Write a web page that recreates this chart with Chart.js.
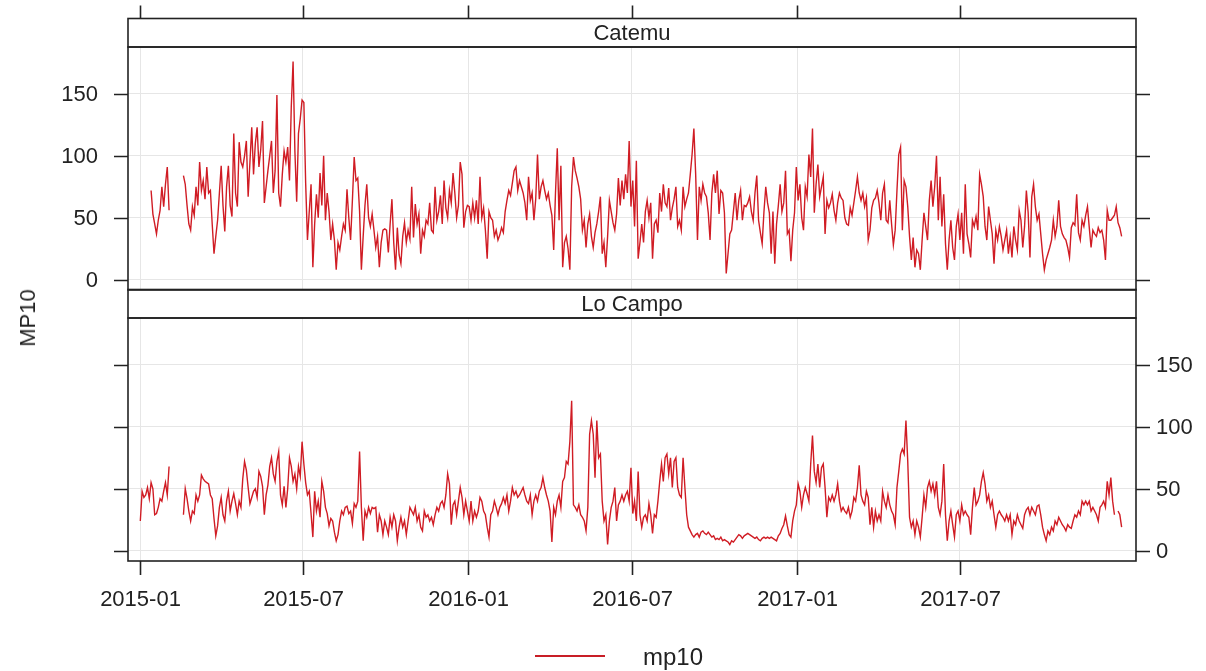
<!DOCTYPE html>
<html>
<head>
<meta charset="utf-8">
<script src="https://cdn.jsdelivr.net/npm/chart.js@4.4.0/dist/chart.umd.min.js"></script>
<style>
    body { margin: 0; background: #fff; width: 1206px; height: 671px; position: relative; overflow: hidden;
           font-family: "Liberation Sans", Arial, sans-serif; color: #222; }
    canvas { position: absolute; left: 0; }
    #topPanel { top: 0; }
    #bottomPanel { top: 285px; }
    #yTitle { position: absolute; left: 28px; top: 318px; transform: translate(-50%, -50%) rotate(-90deg);
              font-size: 22px; white-space: nowrap; }
    #legendLine { position: absolute; left: 535px; top: 655px; width: 70px; height: 1.5px; background: #c81e26; }
    #legendText { position: absolute; left: 643px; top: 645px; font-size: 24px; line-height: 24px; }
</style>
</head>
<body>
<canvas id="topPanel" width="1206" height="300"></canvas>
<canvas id="bottomPanel" width="1206" height="386"></canvas>
<div id="yTitle">MP10</div>
<div id="legendLine"></div>
<div id="legendText">mp10</div>

<script>
// one value every 2 days, starting 2015-01-01 (x = days since then)
const stepDays = 2;
const panelNames = ['Catemu', 'Lo Campo'];
const tickDays = [0, 181, 365, 547, 731, 912];
const tickLabels = ['2015-01', '2015-07', '2016-01', '2016-07', '2017-01', '2017-07'];
const yTicks = [0, 50, 100, 150];

const catemu = [
    null,null,null,null,null,null,72,53,45,37,48,56,75,59,77,          // day 0
    91,56,null,null,null,null,null,null,null,84,77,60,45,40,59,        // 30
    52,75,60,95,72,80,65,91,70,72,45,21,35,48,70,
    92,60,39,75,92,60,51,118,70,59,111,95,91,100,112,                  // 90
    67,95,123,85,110,123,91,105,128,62,75,88,100,112,70,
    88,149,70,59,85,104,95,107,80,140,176,104,63,118,130,
    145,143,78,32,55,77,10,45,69,50,86,60,100,48,70,                   // 180
    55,32,45,32,8,30,24,35,45,40,73,50,32,64,99,
    80,82,55,8,35,60,77,50,43,53,40,26,35,10,30,
    40,41,40,22,45,65,30,8,42,20,13,35,46,30,40,                       // 270
    33,75,34,61,45,53,21,40,35,48,45,62,40,38,75,
    48,55,68,45,80,58,50,72,62,86,70,50,60,95,85,
    42,55,60,59,48,62,50,64,45,83,50,58,40,17,55,                      // 360
    50,48,35,40,32,36,42,38,55,64,72,68,78,88,91,
    72,80,75,70,62,48,83,64,70,48,65,101,65,75,80,
    72,65,70,60,52,24,70,106,48,92,10,30,35,25,8,                      // 450
    75,99,88,82,75,65,40,48,26,45,53,35,26,38,45,
    55,67,21,30,10,35,64,55,46,40,53,82,60,80,65,
    85,70,112,59,80,43,96,17,30,45,30,55,64,50,62,                     // 540
    17,45,48,38,70,55,77,62,59,74,48,58,65,75,43,
    48,40,75,59,65,70,85,101,122,85,32,75,64,77,70,
    67,54,32,70,85,70,88,53,72,70,54,5,21,37,40,                       // 630
    55,70,48,64,72,48,60,59,62,67,55,48,70,84,48,
    38,29,55,75,62,54,21,55,13,45,60,77,55,62,88,
    37,40,15,40,54,91,64,77,50,40,75,67,101,83,122,                    // 720
    54,77,93,67,75,83,37,64,58,62,69,56,48,62,70,
    66,64,50,45,44,58,52,62,72,83,70,64,70,59,66,
    32,40,58,64,66,72,62,48,70,77,48,46,64,45,28,                      // 810
    40,72,101,107,40,80,75,59,35,16,34,10,24,21,8,
    32,54,43,32,64,80,59,75,100,48,83,43,69,29,8,
    32,48,26,16,43,53,32,54,21,77,37,29,18,48,43,                      // 900
    51,40,85,77,67,43,32,59,48,37,13,40,32,43,35,
    24,32,40,21,34,18,43,32,24,56,48,26,43,72,54,
    18,67,77,59,48,53,37,21,8,16,21,26,32,48,35,                       // 990
    43,64,43,37,34,32,26,18,42,46,44,69,38,32,48,
    43,52,59,42,26,40,37,35,42,38,40,32,16,56,48,
    48,50,52,59,46,42,35                                              // 1080
];

const loCampo = [
    24,48,43,45,51,42,55,50,29,30,35,42,40,48,55,                      // day 0
    45,68,null,null,null,null,null,null,null,29,50,42,32,24,32,
    30,45,40,45,61,58,56,55,54,45,42,26,12,20,35,
    43,29,24,40,48,32,40,46,38,29,40,35,58,72,65,                      // 90
    51,38,43,48,50,43,64,60,52,29,45,53,68,75,62,
    56,72,80,45,37,52,35,50,75,68,56,62,50,68,60,
    88,70,55,45,48,30,11,48,32,40,27,56,48,35,30,                      // 180
    20,26,24,15,8,13,24,32,29,35,36,30,32,22,38,
    35,40,80,35,8,32,27,35,30,35,34,35,15,29,24,
    13,24,19,13,27,19,29,24,8,19,27,19,24,13,24,                       // 270
    35,32,29,35,24,29,19,16,32,27,29,24,27,21,29,
    35,32,38,40,35,45,62,54,21,37,40,29,40,51,43,
    29,40,32,24,40,24,32,27,32,43,40,32,29,19,11,                      // 360
    29,32,40,35,29,35,38,43,38,45,32,40,51,45,48,
    43,45,48,51,45,40,38,45,29,40,45,40,48,51,59,
    51,45,40,32,7,35,29,40,45,35,56,59,72,70,88,                       // 450
    121,37,35,32,37,29,27,24,16,35,94,105,94,59,105,
    75,78,40,24,29,5,24,35,40,51,24,37,40,45,40,
    45,48,40,67,30,40,24,64,29,19,27,29,24,38,29,                      // 540
    14,29,27,40,56,70,56,75,78,62,75,51,72,75,51,
    45,43,75,51,29,19,16,13,11,13,14,11,15,16,14,
    13,15,13,11,12,9,10,9,11,8,9,8,7,5,8,                              // 630
    7,9,11,13,12,10,12,13,14,13,12,11,10,11,9,
    8,10,11,10,11,10,11,10,9,8,12,14,18,21,28,
    20,13,11,24,32,37,54,48,35,45,51,46,40,70,93,                      // 720
    64,55,70,51,67,70,51,27,43,40,45,40,45,54,40,
    32,35,32,30,35,27,32,43,40,51,69,45,40,37,48,
    43,21,35,19,32,24,29,24,48,40,35,45,37,32,29,                      // 810
    21,51,64,78,82,78,105,72,27,19,24,13,24,19,11,
    27,45,35,51,56,48,54,45,56,35,29,40,70,29,8,
    24,32,21,11,29,32,24,37,29,32,29,27,13,35,51,                      // 900
    37,40,45,56,63,54,40,45,35,40,29,19,29,32,29,
    27,24,29,24,29,13,24,21,29,24,21,18,29,33,35,
    29,35,32,29,36,37,29,19,13,8,16,13,19,16,24,                       // 990
    21,27,24,21,19,16,21,19,18,24,29,27,32,29,40,
    37,40,37,40,32,35,32,29,24,35,37,40,35,56,45,
    59,40,29,null,32,29,19                                            // 1080
];

const lineColor = '#d01c24';
const frameColor = '#222';
const gridColor = '#e6e6e6';
const labelFont = '22px "Liberation Sans", Arial, sans-serif';

function toPoints(values) {
    return values.map((v, i) => ({ x: i * stepDays, y: v }));
}

// draws the lattice look: frame, strip, tick marks and labels
const latticePanel = {
    id: 'latticePanel',
    afterDraw(chart, args, opts) {
        const { ctx, chartArea: a, scales: { x, y } } = chart;
        const w = a.right - a.left;
        const stripTop = a.top - opts.stripHeight;

        ctx.save();
        ctx.strokeStyle = frameColor;
        ctx.fillStyle = frameColor;
        ctx.lineWidth = 1.6;
        ctx.font = labelFont;

        ctx.strokeRect(a.left, a.top, w, a.bottom - a.top);
        ctx.strokeRect(a.left, stripTop, w, opts.stripHeight);

        ctx.textAlign = 'center';
        ctx.textBaseline = 'middle';
        ctx.fillText(opts.title, a.left + w / 2, stripTop + opts.stripHeight / 2 + 1);

        yTicks.forEach(v => {
            const py = Math.round(y.getPixelForValue(v)) + 0.5;
            ctx.beginPath();
            ctx.moveTo(a.left - 14, py); ctx.lineTo(a.left, py);
            ctx.moveTo(a.right, py); ctx.lineTo(a.right + 14, py);
            ctx.stroke();
            if (opts.yLabels === 'left') {
                ctx.textAlign = 'right';
                ctx.fillText(String(v), a.left - 30, py);
            } else {
                ctx.textAlign = 'left';
                ctx.fillText(String(v), a.right + 20, py);
            }
        });

        ctx.textAlign = 'center';
        tickDays.forEach((d, i) => {
            const px = Math.round(x.getPixelForValue(d)) + 0.5;
            ctx.beginPath();
            if (opts.xSide === 'top') {
                ctx.moveTo(px, stripTop - 13); ctx.lineTo(px, stripTop);
            } else {
                ctx.moveTo(px, a.bottom); ctx.lineTo(px, a.bottom + 14);
            }
            ctx.stroke();
            if (opts.xSide === 'bottom') {
                ctx.fillText(tickLabels[i], px, a.bottom + 39);
            }
        });
        ctx.restore();
    }
};

function makePanel(canvasId, values, title, padding, yLabels, xSide) {
    return new Chart(document.getElementById(canvasId), {
        type: 'line',
        data: {
            datasets: [{
                label: 'mp10',
                data: toPoints(values),
                borderColor: lineColor,
                borderWidth: 1.4,
                pointRadius: 0,
                tension: 0,
                spanGaps: false
            }]
        },
        options: {
            responsive: false,
            animation: false,
            devicePixelRatio: 1,
            layout: { padding: padding },
            plugins: {
                legend: { display: false },
                tooltip: { enabled: false },
                latticePanel: { title: title, stripHeight: 28.5, yLabels: yLabels, xSide: xSide }
            },
            scales: {
                x: {
                    type: 'linear',
                    min: -13.7,
                    max: 1108,
                    afterBuildTicks: s => { s.ticks = tickDays.map(v => ({ value: v })); },
                    afterFit: s => { s.height = 0; },
                    ticks: { display: false },
                    grid: { color: gridColor, drawTicks: false },
                    border: { display: false }
                },
                y: {
                    type: 'linear',
                    min: -8.3,
                    max: 187.8,
                    afterBuildTicks: s => { s.ticks = yTicks.map(v => ({ value: v })); },
                    afterFit: s => { s.width = 0; },
                    ticks: { display: false },
                    grid: { color: gridColor, drawTicks: false },
                    border: { display: false }
                }
            }
        },
        plugins: [latticePanel]
    });
}

makePanel('topPanel', catemu, panelNames[0], { left: 128, right: 70, top: 47, bottom: 10 }, 'left', 'top');
makePanel('bottomPanel', loCampo, panelNames[1], { left: 128, right: 70, top: 33, bottom: 110 }, 'right', 'bottom');
</script>
</body>
</html>
